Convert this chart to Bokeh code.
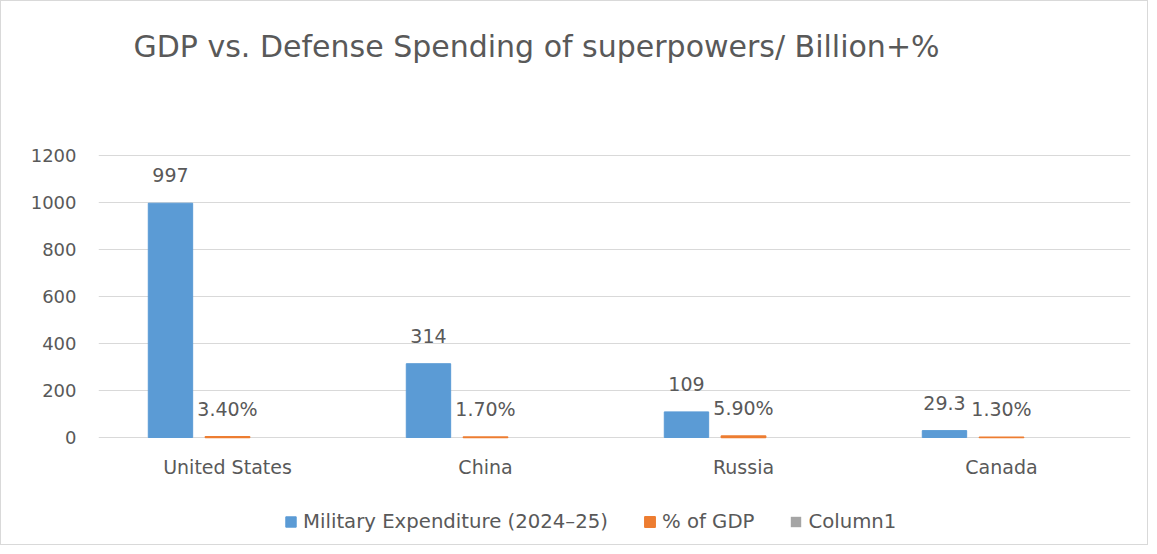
from bokeh.plotting import figure
from bokeh.models import (ColumnDataSource, FactorRange, Range1d, LabelSet, Label,
                          Legend, LegendItem, FixedTicker)
from bokeh.transform import dodge
from bokeh.embed import file_html
from bokeh.resources import INLINE
from bokeh.core.properties import value

countries = ["United States", "China", "Russia", "Canada"]
military = [997, 314, 109, 29.3]
military_labels = ["997", "314", "109", "29.3"]
pct_gdp = [3.4, 1.7, 5.9, 1.3]
pct_labels = ["3.40%", "1.70%", "5.90%", "1.30%"]
column1 = [0, 0, 0, 0]
y_ticks = [0, 200, 400, 600, 800, 1000, 1200]

title_text = "GDP vs. Defense Spending of superpowers/ Billion+%"
series_names = ["Military Expenditure (2024\u201325)", "% of GDP", "Column1"]
colors = ["#5B9BD5", "#ED7D31", "#A5A5A5"]
text_color = "#595959"
grid_color = "#D9D9D9"
FONT = "DejaVu Sans"

# layout (pixels in the figure)
W, H = 1148, 545
TOP, BOTTOM = 20, 535          # frame extents
ZERO_PX, TOP_TICK_PX = 436, 154
units_per_px = y_ticks[-1] / (ZERO_PX - TOP_TICK_PX)
y_max = (ZERO_PX - TOP) * units_per_px
y_min = -(BOTTOM - ZERO_PX) * units_per_px

src = ColumnDataSource(dict(country=countries, mil=military, mil_lbl=military_labels,
                            pct=pct_gdp, pct_lbl=pct_labels, col1=column1,
                            cat_y=[-29 * units_per_px] * len(countries)))

p = figure(width=W, height=H, output_backend="svg", toolbar_location=None,
           x_range=FactorRange(factors=countries, range_padding=0),
           y_range=Range1d(y_min, y_max), x_axis_location=None,
           min_border_left=97, min_border_right=19, min_border_top=TOP,
           min_border_bottom=H - BOTTOM)
p.outline_line_color = None
p.background_fill_color = "white"
p.border_fill_color = "white"
p.title.standoff = 0
p.styles = {"border": "1px solid #D9D9D9"}

off = 0.221
w = 0.172
r1 = p.vbar(x=dodge("country", -off, range=p.x_range), top="mil", width=w, source=src,
            fill_color=colors[0], line_color=colors[0])
r2 = p.vbar(x=dodge("country", 0, range=p.x_range), top="pct", width=w, source=src,
            fill_color=colors[1], line_color=colors[1], line_width=1.5)
r3 = p.vbar(x=dodge("country", off, range=p.x_range), top="col1", width=w, source=src,
            fill_color=colors[2], line_color=None)

for ycol, tcol, dx, yo in [("mil", "mil_lbl", -off, 21), ("pct", "pct_lbl", 0, 17)]:
    ls = LabelSet(x=dodge("country", dx, range=p.x_range), y=ycol, text=tcol, source=src,
                  y_offset=yo, text_align="center", text_baseline="bottom",
                  text_font=value(FONT), text_font_size="19px", text_color=text_color)
    p.add_layout(ls)

# category labels (x axis)
cat = LabelSet(x="country", y="cat_y", text="country", source=src,
               text_align="center", text_baseline="middle",
               text_font=value(FONT), text_font_size="19px", text_color=text_color)
p.add_layout(cat)

# y axis
p.yaxis.ticker = FixedTicker(ticks=y_ticks)
p.yaxis.axis_line_color = None
p.yaxis.major_tick_line_color = None
p.yaxis.minor_tick_line_color = None
p.yaxis.major_label_text_font = FONT
p.yaxis.major_label_text_font_size = "18px"
p.yaxis.major_label_text_color = text_color
p.yaxis.major_label_standoff = 16

p.xgrid.grid_line_color = None
p.ygrid.grid_line_color = grid_color
p.ygrid.ticker = FixedTicker(ticks=y_ticks)

# chart title
title = Label(x=(132 - 97) / 258, y=(ZERO_PX - 45) * units_per_px, text=title_text,
              text_font=FONT, text_font_size="30px", text_color=text_color,
              text_align="left", text_baseline="middle")
p.add_layout(title)

legend = Legend(items=[LegendItem(label=series_names[0], renderers=[r1]),
                       LegendItem(label=series_names[1], renderers=[r2]),
                       LegendItem(label=series_names[2], renderers=[r3])],
                orientation="horizontal", location=(186, 3),
                border_line_color=None, background_fill_color=None,
                label_text_font=FONT, label_text_font_size="19.7px",
                label_text_color=text_color, glyph_width=13, glyph_height=13,
                label_standoff=6, spacing=35, margin=0, padding=0)
p.add_layout(legend)

open("out.html", "w").write(file_html(p, INLINE))
